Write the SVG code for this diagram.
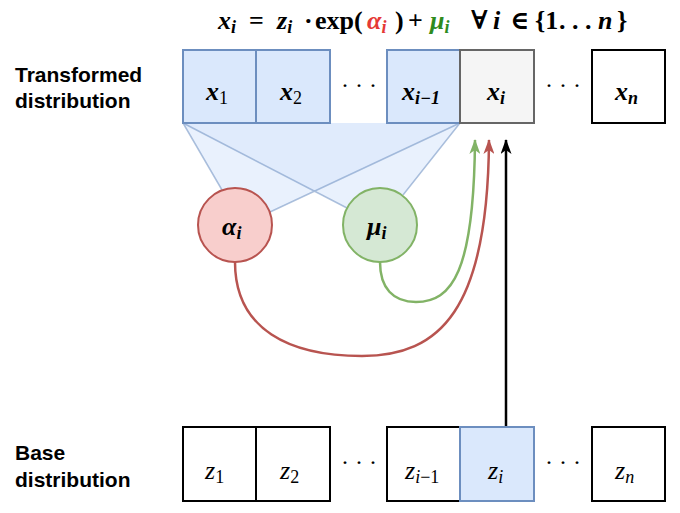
<svg xmlns="http://www.w3.org/2000/svg" width="680" height="513" viewBox="0 0 680 513">
<style>
.lbl{font-family:"Liberation Sans",Arial,sans-serif;font-weight:bold;font-size:21px;fill:#000}
.m{font-family:"Liberation Serif","DejaVu Serif",serif;font-style:italic;font-size:26px;fill:#000}
.mb{font-family:"Liberation Serif","DejaVu Serif",serif;font-style:italic;font-weight:bold;font-size:26px;fill:#000}
.sub{font-size:18px}
.up{font-style:normal}
.cell{stroke-width:2}
.blue{fill:#dae8fc;stroke:#6c8ebf}
.white{fill:#ffffff;stroke:#000000}
.grey{fill:#f5f5f5;stroke:#666666}
.dots{font-family:"Liberation Serif","DejaVu Serif",serif;font-size:24px;fill:#000}
</style>
<defs>
<marker id="ah-red" viewBox="0 0 15 11" refX="14" refY="5.5" markerWidth="6" markerHeight="4.4" orient="auto" markerUnits="strokeWidth"><path d="M0,0 L15,5.5 L0,11 L4,5.5 z" fill="#b85450"/></marker>
<marker id="ah-green" viewBox="0 0 15 11" refX="14" refY="5.5" markerWidth="6" markerHeight="4.4" orient="auto" markerUnits="strokeWidth"><path d="M0,0 L15,5.5 L0,11 L4,5.5 z" fill="#82b366"/></marker>
<marker id="ah-black" viewBox="0 0 15 11" refX="14" refY="5.5" markerWidth="6" markerHeight="4.4" orient="auto" markerUnits="strokeWidth"><path d="M0,0 L15,5.5 L0,11 L4,5.5 z" fill="#000"/></marker>
</defs>
<rect width="680" height="513" fill="#ffffff"/>

<g id="formula">
<text class="mb" y="29"><tspan x="218">x</tspan><tspan class="sub" dy="4">i</tspan><tspan class="up" x="249" dy="-4">=</tspan><tspan x="277">z</tspan><tspan class="sub" dy="4">i</tspan><tspan class="up" x="304" dy="-4">·</tspan><tspan class="up" x="315">exp(</tspan><tspan x="367" fill="#e53935">α</tspan><tspan class="sub" dy="4" fill="#e53935">i</tspan><tspan class="up" x="395" dy="-4">)</tspan><tspan class="up" x="408">+</tspan><tspan x="430" fill="#2e8b1e">μ</tspan><tspan class="sub" dy="4" fill="#2e8b1e">i</tspan><tspan class="up" x="471" dy="-4">∀</tspan><tspan x="493">i</tspan><tspan class="up" x="510">∈</tspan><tspan class="up" x="535">{1</tspan><tspan class="up" x="559">. . .</tspan><tspan x="598">n</tspan><tspan class="up" x="617">}</tspan></text>
</g>

<g id="label-transformed">
<text class="lbl" x="15" y="82">Transformed</text>
<text class="lbl" x="15" y="108">distribution</text>
</g>
<g id="label-base">
<text class="lbl" x="15" y="460">Base</text>
<text class="lbl" x="15" y="487">distribution</text>
</g>

<g id="connectors">
<polygon points="183,123 460,123 270,212 222,190" fill="#dae8fc" fill-opacity="0.6" stroke="none"/>
<polygon points="183,123 460,123 403,195 347,208" fill="#dae8fc" fill-opacity="0.6" stroke="none"/>
<path d="M183,123 L222,190 M460,123 L270,212 M183,123 L347,208 M460,123 L403,195" fill="none" stroke="#6c8ebf" stroke-opacity="0.55" stroke-width="1.5"/>
<path d="M235,262 C235,330 290,356 362,356 C440,356 488,310 489,140" fill="none" stroke="#b85450" stroke-width="2.5" marker-end="url(#ah-red)"/>
<path d="M380,262 C380,288 393,302 416,302 C452,302 474,272 475,140" fill="none" stroke="#82b366" stroke-width="2.5" marker-end="url(#ah-green)"/>
<path d="M506,427 L506,140" fill="none" stroke="#000" stroke-width="2.5" marker-end="url(#ah-black)"/>
</g>

<g id="x1"><rect class="cell blue" x="183" y="50" width="73" height="73"/><text class="mb" x="206" y="100">x<tspan class="sub" dy="4" font-weight="normal" font-style="normal">1</tspan></text></g>
<g id="x2"><rect class="cell blue" x="256" y="50" width="74" height="73"/><text class="mb" x="280" y="100">x<tspan class="sub" dy="4" font-weight="normal" font-style="normal">2</tspan></text></g>
<g id="dots-top"><text class="dots" x="359" y="93" text-anchor="middle">· · ·</text></g>
<g id="xim1"><rect class="cell blue" x="387" y="50" width="73" height="73"/><text class="mb" x="402" y="100">x<tspan class="sub" dy="4">i−1</tspan></text></g>
<g id="xi"><rect class="cell grey" x="460" y="50" width="74" height="73"/><text class="mb" x="487" y="100">x<tspan class="sub" dy="4">i</tspan></text></g>
<g id="dots-top2"><text class="dots" x="563" y="93" text-anchor="middle">· · ·</text></g>
<g id="xn"><rect class="cell white" x="592" y="50" width="73" height="73"/><text class="mb" x="615" y="100">x<tspan class="sub" dy="4">n</tspan></text></g>

<g id="alpha"><circle cx="235" cy="225" r="37" fill="#f8cecc" stroke="#b85450" stroke-width="2"/><text class="mb" x="222" y="235">α<tspan class="sub" dy="4">i</tspan></text></g>
<g id="mu"><circle cx="380" cy="225" r="37" fill="#d5e8d4" stroke="#82b366" stroke-width="2"/><text class="mb" x="367" y="235">μ<tspan class="sub" dy="4">i</tspan></text></g>

<g id="z1"><rect class="cell white" x="183" y="427" width="73" height="74"/><text class="m" x="205" y="479">z<tspan class="sub" dy="4" font-style="normal">1</tspan></text></g>
<g id="z2"><rect class="cell white" x="256" y="427" width="74" height="74"/><text class="m" x="280" y="479">z<tspan class="sub" dy="4" font-style="normal">2</tspan></text></g>
<g id="dots-bot"><text class="dots" x="359" y="470" text-anchor="middle">· · ·</text></g>
<g id="zim1"><rect class="cell white" x="387" y="427" width="73" height="74"/><text class="m" x="405" y="479">z<tspan class="sub" dy="4">i<tspan font-style="normal">−1</tspan></tspan></text></g>
<g id="zi"><rect class="cell blue" x="460" y="427" width="74" height="74"/><text class="m" x="488" y="479">z<tspan class="sub" dy="4">i</tspan></text></g>
<g id="dots-bot2"><text class="dots" x="563" y="470" text-anchor="middle">· · ·</text></g>
<g id="zn"><rect class="cell white" x="592" y="427" width="73" height="74"/><text class="m" x="615" y="479">z<tspan class="sub" dy="4">n</tspan></text></g>
</svg>
